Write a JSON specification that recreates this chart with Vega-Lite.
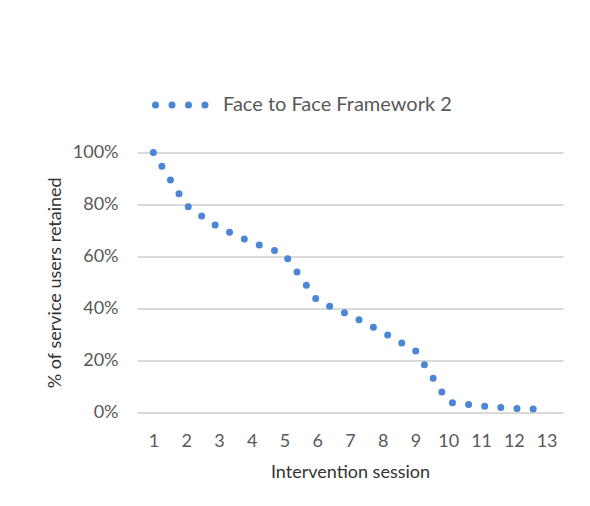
{
  "$schema": "https://vega.github.io/schema/vega-lite/v6.json",
  "autosize": "none",
  "width": 426,
  "height": 259.5,
  "padding": {"left": 137, "top": 152.5, "right": 27, "bottom": 94},
  "background": "white",
  "config": {
    "view": {"stroke": null},
    "font": "Lato",
    "axis": {
      "labelFont": "Lato",
      "titleFont": "Lato",
      "labelColor": "#595959",
      "labelFontSize": 18,
      "titleColor": "#333333",
      "titleFontSize": 18,
      "titleFontWeight": "normal",
      "domain": false,
      "ticks": false
    }
  },
  "data": {
    "values": [
      {"session": 1, "retained": 1.0, "series": "Face to Face Framework 2"},
      {"session": 2, "retained": 0.796, "series": "Face to Face Framework 2"},
      {"session": 3, "retained": 0.711, "series": "Face to Face Framework 2"},
      {"session": 4, "retained": 0.654, "series": "Face to Face Framework 2"},
      {"session": 5, "retained": 0.608, "series": "Face to Face Framework 2"},
      {"session": 6, "retained": 0.429, "series": "Face to Face Framework 2"},
      {"session": 7, "retained": 0.373, "series": "Face to Face Framework 2"},
      {"session": 8, "retained": 0.308, "series": "Face to Face Framework 2"},
      {"session": 9, "retained": 0.236, "series": "Face to Face Framework 2"},
      {"session": 10, "retained": 0.038, "series": "Face to Face Framework 2"},
      {"session": 11, "retained": 0.023, "series": "Face to Face Framework 2"},
      {"session": 12, "retained": 0.014, "series": "Face to Face Framework 2"},
      {"session": 13, "retained": 0.010, "series": "Face to Face Framework 2"}
    ]
  },
  "mark": {
    "type": "line",
    "strokeWidth": 7,
    "strokeCap": "round",
    "strokeDash": [0, 16.2],
    "clip": false
  },
  "encoding": {
    "x": {
      "field": "session",
      "type": "ordinal",
      "scale": {"type": "point", "padding": 0.5},
      "axis": {
        "title": "Intervention session",
        "labelAngle": 0,
        "labelPadding": 20,
        "titlePadding": 13,
        "grid": false
      }
    },
    "y": {
      "field": "retained",
      "type": "quantitative",
      "scale": {"domain": [0, 1], "nice": false},
      "axis": {
        "title": "% of service users retained",
        "format": ".0%",
        "values": [0, 0.2, 0.4, 0.6, 0.8, 1],
        "labelPadding": 19,
        "titlePadding": 8,
        "gridColor": "#d9d9d9",
        "gridWidth": 2
      }
    },
    "color": {
      "field": "series",
      "type": "nominal",
      "scale": {"range": ["#4a86d4"]},
      "legend": {
        "title": null,
        "orient": "none",
        "legendX": 15,
        "legendY": -76,
        "symbolType": "stroke",
        "symbolSize": 2500,
        "symbolStrokeWidth": 7,
        "symbolDash": [0, 16.5],
        "labelFont": "Lato",
        "labelFontSize": 20,
        "labelLimit": 400,
        "labelColor": "#595959",
        "labelOffset": 14,
        "encode": {"symbols": {"update": {"strokeCap": {"value": "round"}}}}
      }
    }
  }
}
